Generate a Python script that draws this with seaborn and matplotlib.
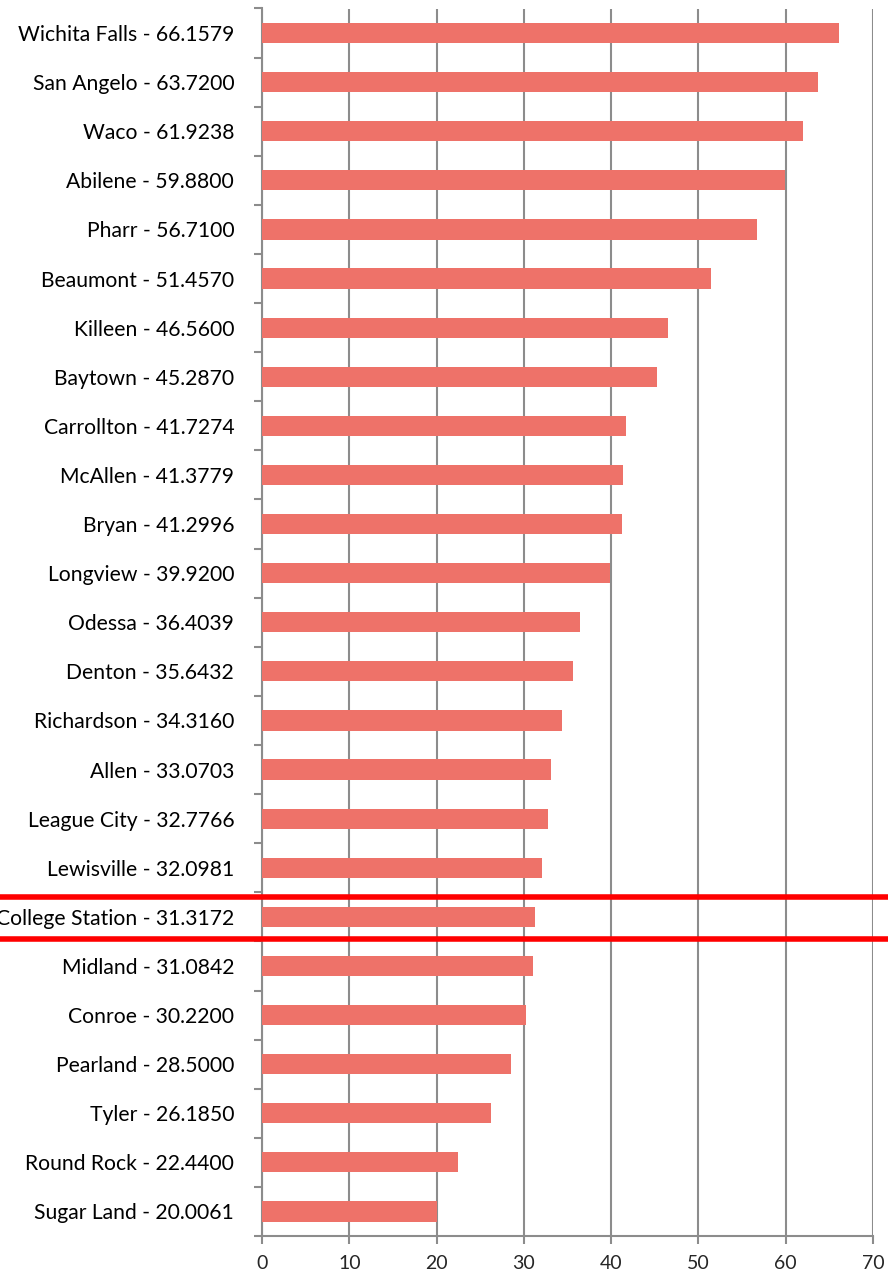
import matplotlib
matplotlib.use("Agg")
import matplotlib.pyplot as plt
import matplotlib.transforms as mtransforms
import seaborn as sns
import pandas as pd
import numpy as np

cities = ["Wichita Falls", "San Angelo", "Waco", "Abilene", "Pharr", "Beaumont",
          "Killeen", "Baytown", "Carrollton", "McAllen", "Bryan", "Longview",
          "Odessa", "Denton", "Richardson", "Allen", "League City", "Lewisville",
          "College Station", "Midland", "Conroe", "Pearland", "Tyler",
          "Round Rock", "Sugar Land"]
values = [66.1579, 63.7200, 61.9238, 59.8800, 56.7100, 51.4570, 46.5600, 45.2870,
          41.7274, 41.3779, 41.2996, 39.9200, 36.4039, 35.6432, 34.3160, 33.0703,
          32.7766, 32.0981, 31.3172, 31.0842, 30.2200, 28.5000, 26.1850, 22.4400,
          20.0061]
labels = [f"{c} - {v:.4f}" for c, v in zip(cities, values)]
highlight = "College Station"
xticks = [0, 10, 20, 30, 40, 50, 60, 70]

sns.set_style("white")
plt.rcParams['font.family'] = ['Lato', 'DejaVu Sans']

df = pd.DataFrame({"label": labels, "value": values})

fig = plt.figure(figsize=(8.88, 12.73), dpi=100)
ax = fig.add_axes([262/888, 1 - 1236/1273, (873-262)/888, (1236-8.5)/1273])

sns.barplot(data=df, y="label", x="value", orient="h", color="#EE7269",
            saturation=1, width=0.41, ax=ax, zorder=3, linewidth=0, edgecolor="none")

ax.set_xlim(0, 70)
ax.set_ylim(len(labels) - 0.5, -0.5)
ax.set_xticks(xticks)
ax.set_xlabel("")
ax.set_ylabel("")
ax.xaxis.grid(True, color="#8c8c8c", linewidth=1.5, zorder=0)
ax.set_axisbelow(True)

for s in ["top", "right"]:
    ax.spines[s].set_visible(False)
for s in ["left", "bottom"]:
    ax.spines[s].set_color("#8c8c8c")
    ax.spines[s].set_linewidth(1.5)

ax.set_yticks(np.arange(-0.5, len(labels) + 0.5, 1), minor=True)
ax.tick_params(axis="y", which="major", left=True, length=0, pad=20,
               labelsize=15.2, labelcolor="black")
ax.tick_params(axis="y", which="minor", left=True, length=6, width=1.5,
               color="#8c8c8c", direction="out")
ax.tick_params(axis="x", which="major", bottom=True, length=6, width=1.5,
               color="#8c8c8c", direction="out", labelsize=14, pad=8)

# highlight lines around College Station
idx = cities.index(highlight)
trans = mtransforms.blended_transform_factory(fig.transFigure, ax.transData)
for dy in (-0.41, 0.45):
    ax.plot([0, 1], [idx + dy, idx + dy], color="#ff0000", linewidth=4,
            transform=trans, clip_on=False, zorder=10)

fig.savefig("out.png", dpi=100)
